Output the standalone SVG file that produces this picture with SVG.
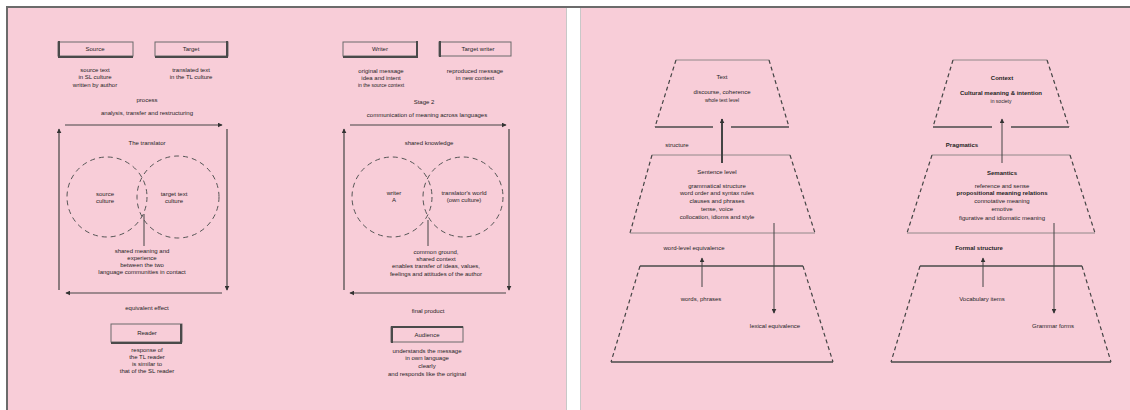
<svg xmlns="http://www.w3.org/2000/svg" width="1130" height="410" viewBox="0 0 1130 410">
<style>
text{font-family:"Liberation Sans",Arial,sans-serif;font-size:6px;fill:#1f1f1f;text-anchor:middle}
.sm{font-size:5px}
.b{font-weight:bold}
.box{fill:none;stroke:#6a6a6a;stroke-width:1}
.thk{stroke:#4a4a4a;stroke-width:2;fill:none}
.circ{fill:none;stroke:#555;stroke-width:1;stroke-dasharray:5 4}
.cyc{stroke:#444;stroke-width:1.2;fill:none}
.side{stroke:#444;stroke-width:1.2;stroke-dasharray:4 3;fill:none}
.edge{stroke:#777;stroke-width:0.8;fill:none}
.base{stroke:#4a4a4a;stroke-width:1.6;fill:none}
.con{stroke:#444;stroke-width:1;fill:none}
</style>
<defs>
<marker id="ah" viewBox="0 0 8 8" refX="7" refY="4" markerWidth="5" markerHeight="5" markerUnits="userSpaceOnUse" orient="auto">
<path d="M0,0 L8,4 L0,8 z" fill="#333"/>
</marker>
</defs>
<rect x="0" y="0" width="1130" height="410" fill="#ffffff"/>
<rect x="8" y="8" width="558" height="402" fill="#f8cdd8"/>
<rect x="581" y="8" width="549" height="402" fill="#f8cdd8"/>
<line x1="6" y1="7" x2="1130" y2="7" stroke="#6b6b6b" stroke-width="2"/>
<line x1="7" y1="6" x2="7" y2="410" stroke="#6b6b6b" stroke-width="2"/>
<line x1="566.5" y1="8" x2="566.5" y2="410" stroke="#c8c8c8" stroke-width="1"/>
<line x1="580.5" y1="8" x2="580.5" y2="410" stroke="#c8c8c8" stroke-width="1"/>

<!-- Diagram A -->
<g id="a-source">
<rect class="box" x="58" y="42" width="75" height="14"/>
<path class="thk" d="M59,41 V57 H133"/>
<text x="95" y="51">Source</text>
<text x="95" y="72">source text</text>
<text x="95" y="79">in SL culture</text>
<text x="95" y="87">written by author</text>
</g>
<g id="a-target">
<rect class="box" x="155" y="42" width="73" height="14"/>
<path class="thk" d="M227,41 V57 H155"/>
<text x="191" y="51">Target</text>
<text x="191" y="72">translated text</text>
<text x="191" y="79">in the TL culture</text>
</g>
<g id="a-process">
<text x="147" y="102">process</text>
<text x="147" y="115">analysis, transfer and restructuring</text>
</g>
<g id="a-translator">
<text x="147" y="145">The translator</text>
</g>
<g id="a-left-circle">
<circle class="circ" cx="107" cy="197" r="40"/>
<text x="105" y="196">source</text>
<text x="105" y="203">culture</text>
</g>
<g id="a-right-circle">
<circle class="circ" cx="178" cy="197" r="41"/>
<text x="174" y="196">target text</text>
<text x="174" y="203">culture</text>
</g>
<g id="a-overlap">
<text x="142" y="253">shared meaning and</text>
<text x="142" y="260">experience</text>
<text x="142" y="267">between the two</text>
<text x="142" y="274">language communities in contact</text>
</g>
<g id="a-effect">
<text x="147" y="310">equivalent effect</text>
</g>
<g id="a-reader">
<rect class="box" x="111" y="324" width="71" height="18"/>
<path class="thk" d="M181,324 V343 H111"/>
<text x="147" y="335">Reader</text>
<text x="147" y="352">response of</text>
<text x="147" y="359">the TL reader</text>
<text x="147" y="366">is similar to</text>
<text x="147" y="373">that of the SL reader</text>
</g>

<!-- Diagram B -->
<g id="b-writer">
<rect class="box" x="343" y="42" width="74" height="14"/>
<path class="thk" d="M343,57 H417 V41"/>
<text x="380" y="51">Writer</text>
<text x="381" y="73">original message</text>
<text x="381" y="80">idea and intent</text>
<text class="sm" x="381" y="87">in the source context</text>
</g>
<g id="b-translator">
<rect class="box" x="439" y="42" width="72" height="14"/>
<path class="thk" d="M440,41 V57"/>
<text x="478" y="51">Target writer</text>
<text x="475" y="73">reproduced message</text>
<text x="475" y="80">in new context</text>
</g>
<g id="b-stage">
<text x="424" y="104">Stage 2</text>
<text x="427" y="117">communication of meaning across languages</text>
</g>
<g id="b-shared">
<text x="429" y="145">shared knowledge</text>
</g>
<g id="b-left-circle">
<circle class="circ" cx="392" cy="197" r="40"/>
<text x="394" y="195">writer</text>
<text x="394" y="202">A</text>
</g>
<g id="b-right-circle">
<circle class="circ" cx="463" cy="197" r="40"/>
<text x="464" y="195">translator's world</text>
<text x="464" y="202">(own culture)</text>
</g>
<g id="b-overlap">
<text x="436" y="254">common ground,</text>
<text x="436" y="261">shared context</text>
<text x="436" y="268">enables transfer of ideas, values,</text>
<text x="436" y="276">feelings and attitudes of the author</text>
</g>
<g id="b-product">
<text x="428" y="313">final product</text>
</g>
<g id="b-audience">
<rect class="box" x="391" y="327" width="72" height="15"/>
<path class="thk" d="M392,343 V327 H463"/>
<text x="427" y="337">Audience</text>
<text x="427" y="353">understands the message</text>
<text x="427" y="360">in own language</text>
<text x="427" y="368">clearly</text>
<text x="427" y="376">and responds like the original</text>
</g>

<!-- Stack 1 -->
<g id="s1-text">
<path class="edge" d="M676,60 H769"/>
<path class="side" d="M676,60 L655,127"/>
<path class="side" d="M769,60 L789,127"/>
<path class="base" d="M655,127 H713 M731,127 H789"/>
<text x="722" y="79">Text</text>
<text x="722" y="94">discourse, coherence</text>
<text class="sm" x="722" y="102">whole text level</text>
</g>
<g id="s1-structure"><text x="677" y="147">structure</text></g>
<g id="s1-sentence">
<path class="edge" d="M652,155 H790"/>
<path class="side" d="M652,155 L630,233"/>
<path class="side" d="M790,155 L815,233"/>
<path class="edge" d="M630,233 H815"/>
<text x="717" y="174">Sentence level</text>
<text x="717" y="188">grammatical structure</text>
<text x="717" y="195">word order and syntax rules</text>
<text x="717" y="203">clauses and phrases</text>
<text x="717" y="211">tense, voice</text>
<text x="717" y="219">collocation, idioms and style</text>
</g>
<g id="s1-lexical"><text x="694" y="250">word-level equivalence</text></g>
<g id="s1-word">
<path class="base" d="M640,266 H803"/>
<path class="side" d="M640,266 L611,362"/>
<path class="side" d="M803,266 L833,362"/>
<path class="base" d="M611,362 H833"/>
<text x="701" y="301">words, phrases</text>
<text x="775" y="328">lexical equivalence</text>
</g>

<!-- Stack 2 -->
<g id="s2-context">
<path class="edge" d="M953,60 H1047"/>
<path class="side" d="M953,60 L933,127"/>
<path class="side" d="M1047,60 L1069,127"/>
<path class="base" d="M933,127 H992 M1011,127 H1069"/>
<text class="b" x="1002" y="80">Context</text>
<text class="b" x="1001" y="95">Cultural meaning &amp; intention</text>
<text class="sm" x="1001" y="103">in society</text>
</g>
<g id="s2-pragmatics"><text class="b" x="962" y="147">Pragmatics</text></g>
<g id="s2-semantics">
<path class="edge" d="M932,155 H1070"/>
<path class="side" d="M932,155 L907,233"/>
<path class="side" d="M1070,155 L1095,233"/>
<path class="edge" d="M907,233 H1095"/>
<text class="b" x="1002" y="175">Semantics</text>
<text x="1002" y="188">reference and sense</text>
<text class="b" x="1002" y="195">propositional meaning relations</text>
<text x="1002" y="203">connotative meaning</text>
<text x="1002" y="211">emotive</text>
<text x="1002" y="220">figurative and idiomatic meaning</text>
</g>
<g id="s2-form"><text class="b" x="979" y="250">Formal structure</text></g>
<g id="s2-vocab">
<path class="base" d="M920,266 H1082"/>
<path class="side" d="M920,266 L891,362"/>
<path class="side" d="M1082,266 L1111,362"/>
<path class="base" d="M891,362 H1111"/>
<text x="982" y="301">Vocabulary items</text>
<text x="1053" y="328">Grammar forms</text>
</g>

<!-- Connectors -->
<g id="connectors">
<line class="cyc" x1="65" y1="125" x2="222" y2="125" marker-end="url(#ah)"/>
<line class="cyc" x1="227" y1="129" x2="227" y2="290" marker-end="url(#ah)"/>
<line class="cyc" x1="222" y1="293" x2="66" y2="293" marker-end="url(#ah)"/>
<line class="cyc" x1="59" y1="290" x2="59" y2="129" marker-end="url(#ah)"/>
<line class="con" x1="144" y1="214" x2="144" y2="246"/>
<line class="cyc" x1="350" y1="125" x2="506" y2="125" marker-end="url(#ah)"/>
<line class="cyc" x1="509" y1="129" x2="509" y2="290" marker-end="url(#ah)"/>
<line class="cyc" x1="506" y1="293" x2="350" y2="293" marker-end="url(#ah)"/>
<line class="cyc" x1="344" y1="290" x2="344" y2="129" marker-end="url(#ah)"/>
<line class="con" x1="428" y1="220" x2="428" y2="246"/>
<line x1="722" y1="163" x2="722" y2="119" stroke="#444" stroke-width="2" marker-end="url(#ah)"/>
<line class="con" x1="774" y1="223" x2="774" y2="313" marker-end="url(#ah)"/>
<line class="con" x1="702" y1="287" x2="702" y2="258" marker-end="url(#ah)"/>
<line class="con" x1="1002" y1="163" x2="1002" y2="119" marker-end="url(#ah)"/>
<line class="con" x1="1054" y1="223" x2="1054" y2="313" marker-end="url(#ah)"/>
<line class="con" x1="983" y1="287" x2="983" y2="258" marker-end="url(#ah)"/>
</g>
</svg>
